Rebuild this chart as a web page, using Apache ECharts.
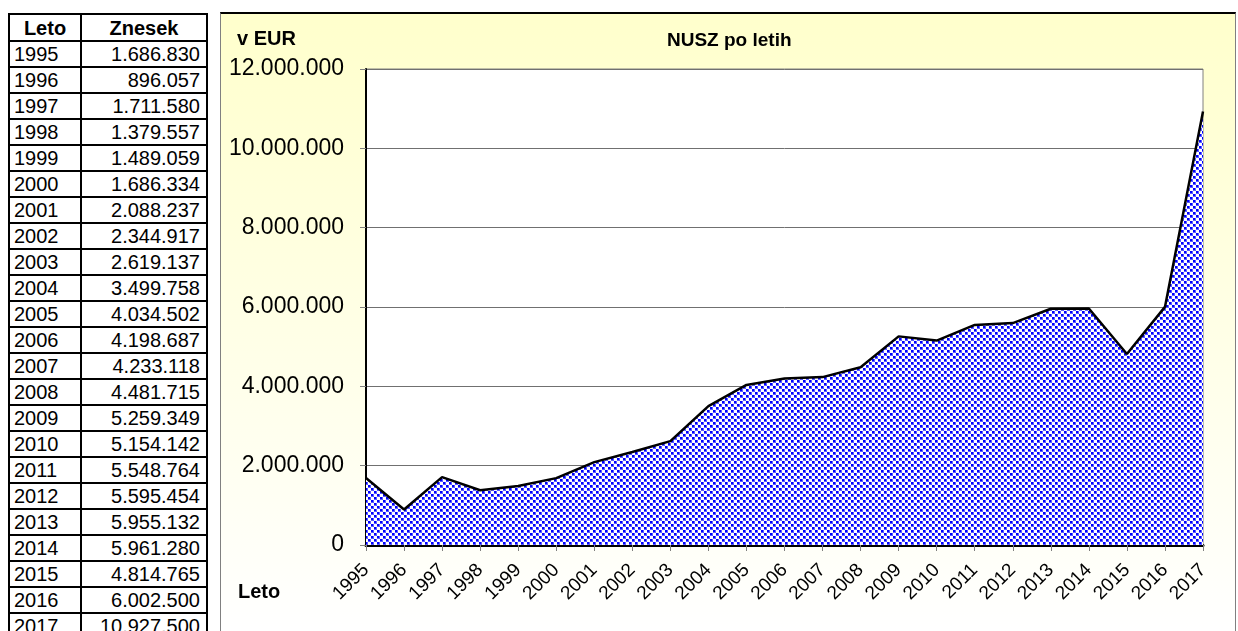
<!DOCTYPE html>
<html>
<head>
<meta charset="utf-8">
<script src="https://cdn.jsdelivr.net/npm/echarts@6/dist/echarts.min.js"></script>
<style>
  html, body { margin: 0; padding: 0; background: #fff; }
  body { width: 1238px; height: 631px; position: relative; overflow: hidden; font-family: "Liberation Sans", Arial, sans-serif; }
  .data-table {
    position: absolute; left: 8px; top: 13px;
    border-collapse: collapse; font-size: 20px; color: #000;
  }
  .data-table td, .data-table th {
    border: 2px solid #000; height: 24px; padding: 0 4px; line-height: 24px;
  }
  .data-table th { font-weight: bold; text-align: center; height: 25px; }
  .data-table td.year { width: 62px; text-align: left; }
  .data-table td.amount { width: 114px; text-align: right; padding-right: 6px; }
  .chart-wrapper {
    position: absolute; left: 220px; top: 12px; width: 1014px; height: 619px;
    border-top: 2px solid #000; border-left: 1px solid #808080; border-right: 1px solid #808080;
  }
  #chart { width: 100%; height: 100%; }
</style>
</head>
<body>
<table class="data-table" id="table"></table>
<section class="chart-wrapper">
  <div id="chart"></div>
</section>
<script>
const years = ["1995", "1996", "1997", "1998", "1999", "2000", "2001", "2002", "2003", "2004", "2005", "2006",
  "2007", "2008", "2009", "2010", "2011", "2012", "2013", "2014", "2015", "2016", "2017"];
const amounts = [1686830, 896057, 1711580, 1379557, 1489059, 1686334, 2088237, 2344917, 2619137, 3499758,
  4034502, 4198687, 4233118, 4481715, 5259349, 5154142, 5548764, 5595454, 5955132, 5961280, 4814765,
  6002500, 10927500];
const tableHeader = ["Leto", "Znesek"];

const fmt = (v) => String(v).replace(/\B(?=(\d{3})+(?!\d))/g, ".");

// table on the left
const table = document.getElementById("table");
let html = "<tr><th>" + tableHeader[0] + "</th><th>" + tableHeader[1] + "</th></tr>";
years.forEach((y, i) => {
  html += '<tr><td class="year">' + y + '</td><td class="amount">' + fmt(amounts[i]) + "</td></tr>";
});
table.innerHTML = html;

// dotted blue fill: checkerboard of soft blue squares
const makePattern = () => {
  const c = document.createElement("canvas");
  c.width = 6;
  c.height = 6;
  const ctx = c.getContext("2d");
  ctx.fillStyle = "#fff";
  ctx.fillRect(0, 0, 6, 6);
  ctx.fillStyle = "#5a5aff";
  ctx.fillRect(0, 0, 3, 3);
  ctx.fillRect(3, 3, 3, 3);
  ctx.fillStyle = "#0000ff";
  ctx.fillRect(0, 0, 2, 2);
  ctx.fillRect(3, 3, 2, 2);
  return c;
};

const myChart = echarts.init(document.getElementById("chart"));
myChart.setOption({
  animation: false,
  backgroundColor: {
    type: "linear", x: 0, y: 0, x2: 0, y2: 1,
    colorStops: [{ offset: 0, color: "#ffffcc" }, { offset: 1, color: "#ffffff" }]
  },
  textStyle: { fontFamily: "Liberation Sans, Arial, sans-serif" },
  graphic: [
    { type: "text", left: 508 - 62, top: 17, style: { text: "NUSZ po letih", font: "bold 19px Liberation Sans", fill: "#000" } },
    { type: "text", left: 16, top: 15, style: { text: "v EUR", font: "bold 20px Liberation Sans", fill: "#000" } },
    { type: "text", left: 17, top: 568, style: { text: "Leto", font: "bold 20px Liberation Sans", fill: "#000" } }
  ],
  grid: {
    left: 145, top: 55, width: 837, height: 476,
    show: true, backgroundColor: "#fff", borderColor: "#808080", borderWidth: 1
  },
  xAxis: {
    type: "category",
    data: years,
    boundaryGap: false,
    axisLine: { lineStyle: { color: "#000", width: 3 } },
    axisTick: { show: true, length: 6, lineStyle: { color: "#808080" } },
    axisLabel: { rotate: 45, margin: 22, fontSize: 19, color: "#000", interval: 0 }
  },
  yAxis: {
    type: "value",
    min: 0,
    max: 12000000,
    interval: 2000000,
    axisLine: { show: true, lineStyle: { color: "#000", width: 2 } },
    axisTick: { show: true, length: 6, lineStyle: { color: "#808080" } },
    axisLabel: { fontSize: 23, color: "#000", margin: 22, formatter: fmt },
    splitLine: { lineStyle: { color: "#707070", width: 1 } }
  },
  series: [
    {
      type: "line",
      data: amounts,
      showSymbol: false,
      silent: true,
      lineStyle: { color: "#000", width: 2.5 },
      areaStyle: { color: { image: makePattern(), repeat: "repeat" }, opacity: 1 }
    }
  ]
});
</script>
</body>
</html>
